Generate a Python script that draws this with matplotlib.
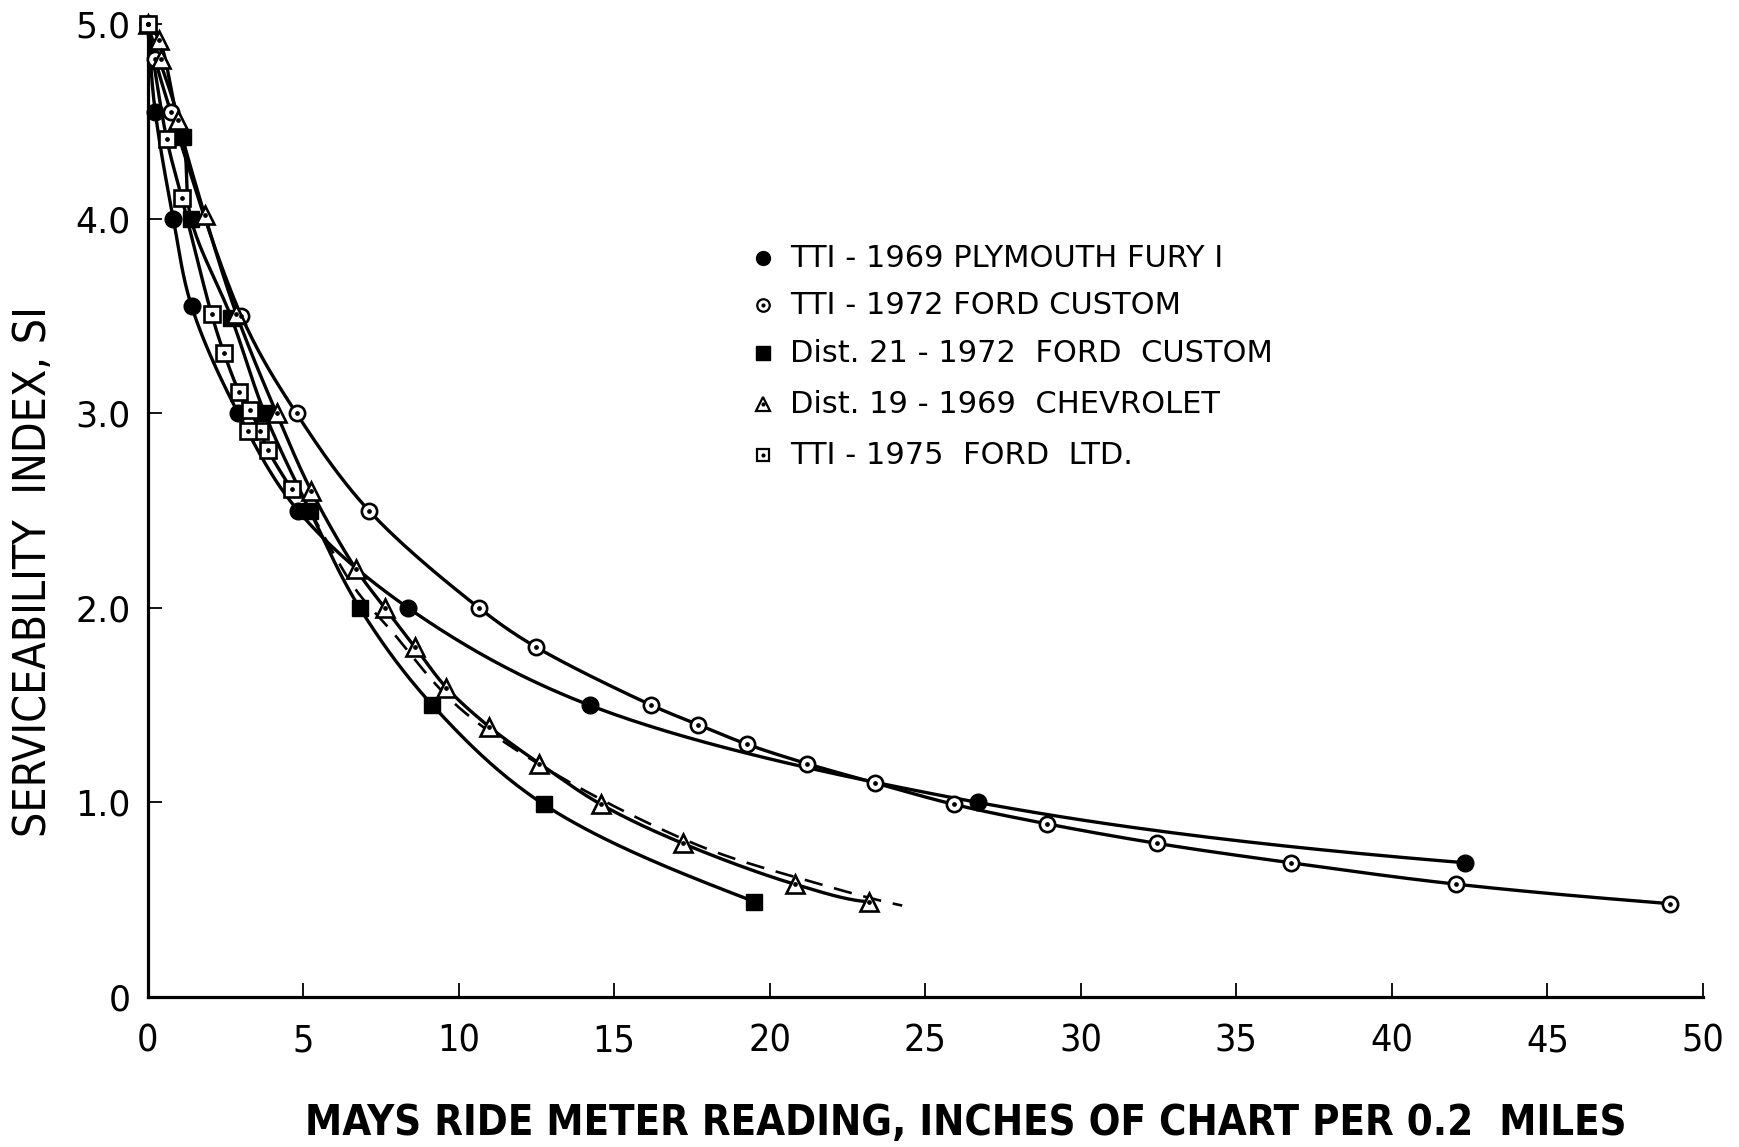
import numpy as np
import matplotlib
matplotlib.use("Agg")
import matplotlib.pyplot as plt

# ---- data -----------------------------------------------------------------
fury69_x = [0.0, 0.25, 0.83, 1.42, 2.92, 4.84, 8.38, 14.21, 26.7, 42.36]
fury69_y = [5.0, 4.55, 4.00, 3.55, 3.00, 2.50, 2.00, 1.50, 1.00, 0.69]

ford72_x = [0.0, 0.25, 0.75, 3.02, 4.79, 7.12, 10.66, 12.48, 16.2, 17.7,
            19.26, 21.19, 23.4, 25.93, 28.92, 32.44, 36.75, 42.07, 48.93]
ford72_y = [5.0, 4.82, 4.55, 3.50, 3.00, 2.50, 2.00, 1.80, 1.50, 1.40,
            1.30, 1.20, 1.10, 0.99, 0.89, 0.79, 0.69, 0.58, 0.48]

dist21_x = [0.0, 1.14, 1.40, 2.70, 3.77, 5.22, 6.82, 9.16, 12.74, 19.51]
dist21_y = [5.0, 4.42, 4.00, 3.49, 3.00, 2.50, 2.00, 1.50, 0.99, 0.49]

chev69_x = [0.0, 0.38, 0.97, 1.84, 2.86, 4.15, 5.27, 6.70, 7.63, 8.59,
            9.61, 10.98, 12.60, 14.58, 17.20, 20.80, 23.20]
chev69_y = [5.0, 4.92, 4.51, 4.02, 3.51, 3.00, 2.60, 2.20, 2.00, 1.80,
            1.59, 1.39, 1.20, 0.99, 0.79, 0.58, 0.49]
chev69_extra_x = [0.42]
chev69_extra_y = [4.82]

ltd75_x = [0.0, 0.62, 1.10, 2.06, 2.46, 2.95, 3.29, 3.61, 3.88, 4.63]
ltd75_y = [5.0, 4.41, 4.11, 3.51, 3.31, 3.11, 3.02, 2.91, 2.81, 2.61]
ltd75_extra_x = [3.24]
ltd75_extra_y = [2.91]

# dashed mean curve for the district data
dashed_x = [5.22, 6.67, 7.80, 9.93, 13.0, 17.7, 21.4, 24.26]
dashed_y = [2.50, 2.10, 1.89, 1.50, 1.157, 0.78, 0.59, 0.47]

legend_labels = ["TTI - 1969 PLYMOUTH FURY I",
                 "TTI - 1972 FORD CUSTOM",
                 "Dist. 21 - 1972  FORD  CUSTOM",
                 "Dist. 19 - 1969  CHEVROLET",
                 "TTI - 1975  FORD  LTD."]

x_ticks = [0, 5, 10, 15, 20, 25, 30, 35, 40, 45, 50]
y_ticks = [0, 1, 2, 3, 4, 5]
y_tick_labels = ["0", "1.0", "2.0", "3.0", "4.0", "5.0"]

# ---- figure ---------------------------------------------------------------
W, H = 1739, 1147
fig = plt.figure(figsize=(W / 100, H / 100), dpi=100)
ax_left, ax_right, ax_bot, ax_top = 147.5, 1703.0, 997.0, 24.4
ax = fig.add_axes([ax_left / W, 1 - ax_bot / H,
                   (ax_right - ax_left) / W, (ax_bot - ax_top) / H])
ax.set_xlim(0, 50)
ax.set_ylim(0, 5)

# pixel scale per data unit, used to make curve parameterisation isotropic
SX = (ax_right - ax_left) / 50.0
SY = (ax_bot - ax_top) / 5.0


def smooth_curve(xs, ys, samples=40):
    """Centripetal Catmull-Rom spline through the given points."""
    P = np.column_stack([np.asarray(xs, float) * SX, np.asarray(ys, float) * SY])
    start = 2 * P[0] - P[1]
    if len(P) >= 3:
        end = 3 * P[-1] - 3 * P[-2] + P[-3]
    else:
        end = 2 * P[-1] - P[-2]
    P = np.vstack([start, P, end])
    out = []
    for i in range(1, len(P) - 2):
        p0, p1, p2, p3 = P[i - 1], P[i], P[i + 1], P[i + 2]
        t0 = 0.0
        t1 = t0 + np.linalg.norm(p1 - p0) ** 0.5
        t2 = t1 + np.linalg.norm(p2 - p1) ** 0.5
        t3 = t2 + np.linalg.norm(p3 - p2) ** 0.5
        t = np.linspace(t1, t2, samples)[:, None]
        a1 = (t1 - t) / (t1 - t0) * p0 + (t - t0) / (t1 - t0) * p1
        a2 = (t2 - t) / (t2 - t1) * p1 + (t - t1) / (t2 - t1) * p2
        a3 = (t3 - t) / (t3 - t2) * p2 + (t - t2) / (t3 - t2) * p3
        b1 = (t2 - t) / (t2 - t0) * a1 + (t - t0) / (t2 - t0) * a2
        b2 = (t3 - t) / (t3 - t1) * a2 + (t - t1) / (t3 - t1) * a3
        c = (t2 - t) / (t2 - t1) * b1 + (t - t1) / (t2 - t1) * b2
        out.append(c if i == 1 else c[1:])
    C = np.vstack(out)
    return C[:, 0] / SX, C[:, 1] / SY


LW = 2.4
MS = 12
EW = 1.9

series = [
    (fury69_x, fury69_y, [], [], dict(marker="o", mfc="black", mec="black", ms=MS), False),
    (ford72_x, ford72_y, [], [], dict(marker="o", mfc="white", mec="black", ms=MS - 1, mew=EW), True),
    (dist21_x, dist21_y, [], [], dict(marker="s", mfc="black", mec="black", ms=MS - 0.5), False),
    (chev69_x, chev69_y, chev69_extra_x, chev69_extra_y,
     dict(marker="^", mfc="white", mec="black", ms=MS + 0.5, mew=EW), True),
    (ltd75_x, ltd75_y, ltd75_extra_x, ltd75_extra_y,
     dict(marker="s", mfc="white", mec="black", ms=MS - 0.5, mew=EW), True),
]

for xs, ys, ex, ey, mstyle, dotted in series:
    cx, cy = smooth_curve(xs, ys)
    ax.plot(cx, cy, color="black", lw=LW, solid_capstyle="round",
            clip_on=False, zorder=2)

ax.plot(*smooth_curve(dashed_x, dashed_y), color="black", lw=1.9,
        ls=(0, (7, 4.5)), zorder=2)

for xs, ys, ex, ey, mstyle, dotted in series:
    px = list(xs) + list(ex)
    py = list(ys) + list(ey)
    ax.plot(px, py, ls="none", clip_on=False, zorder=3, **mstyle)
    if dotted:
        ax.plot(px, py, ls="none", marker="o", ms=2.4, mfc="black",
                mec="black", clip_on=False, zorder=4)

# ---- legend ----------------------------------------------------------------
leg_mx = (763 - ax_left) / (ax_right - ax_left)
leg_tx = (790 - ax_left) / (ax_right - ax_left)
leg_rows_px = [258, 305, 353, 404, 455]
leg_styles = [
    dict(marker="o", mfc="black", mec="black", ms=10),
    dict(marker="o", mfc="white", mec="black", ms=9, mew=1.6),
    dict(marker="s", mfc="black", mec="black", ms=9.5),
    dict(marker="^", mfc="white", mec="black", ms=10.5, mew=1.6),
    dict(marker="s", mfc="white", mec="black", ms=9, mew=1.6),
]
leg_dotted = [False, True, False, True, True]
for row, lab, st, dot in zip(leg_rows_px, legend_labels, leg_styles, leg_dotted):
    fy = (ax_bot - row) / (ax_bot - ax_top)
    ax.plot([leg_mx], [fy], transform=ax.transAxes, ls="none", **st)
    if dot:
        ax.plot([leg_mx], [fy], transform=ax.transAxes, ls="none",
                marker="o", ms=2.0, mfc="black", mec="black")
    ax.text(leg_tx, fy, lab, transform=ax.transAxes, ha="left", va="center",
            fontsize=22, family="DejaVu Sans", color="black")

# ---- axes styling ---------------------------------------------------------
for side in ("top", "right"):
    ax.spines[side].set_visible(False)
for side in ("left", "bottom"):
    ax.spines[side].set_linewidth(2.3)
    ax.spines[side].set_color("black")

ax.set_xticks(x_ticks)
ax.set_xticklabels([str(t) for t in x_ticks])
ax.set_yticks(y_ticks)
ax.set_yticklabels(y_tick_labels)
ax.tick_params(axis="both", direction="in", length=10, width=1.3, color="black")
ax.tick_params(axis="x", pad=19, labelsize=27)
ax.tick_params(axis="y", pad=12, labelsize=25)
for lbl in ax.get_xticklabels():
    lbl.set_fontstretch("condensed")

ax.set_xlabel("MAYS RIDE METER READING, INCHES OF CHART PER 0.2  MILES",
              fontsize=30, fontweight="bold", fontstretch="condensed",
              family="DejaVu Sans", va="center")
ax.xaxis.set_label_coords(0.526, -0.130)
ax.set_ylabel("SERVICEABILITY  INDEX, SI", fontsize=32,
              fontstretch="condensed", family="DejaVu Sans", va="center")
ax.yaxis.set_label_coords(-0.0736, 0.437)

fig.savefig("out.png", dpi=100, facecolor="white")
